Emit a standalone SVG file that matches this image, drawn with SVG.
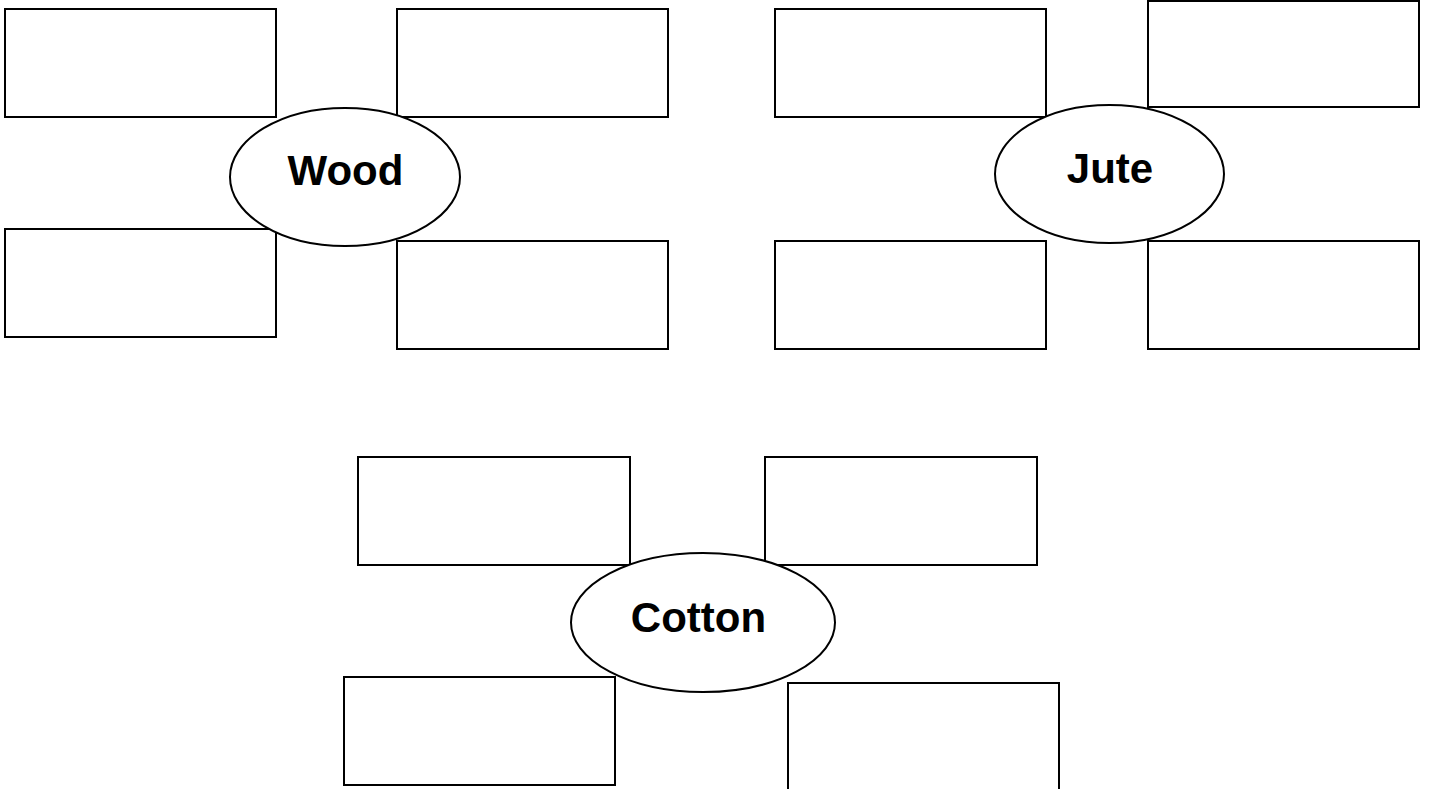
<svg xmlns="http://www.w3.org/2000/svg" width="1429" height="789" viewBox="0 0 1429 789">
<style>
.box{fill:#fff;stroke:#000;stroke-width:2}
.hub{fill:#fff;stroke:#000;stroke-width:2}
.lbl{font-family:"Liberation Sans",Arial,sans-serif;font-weight:bold;font-size:42px;fill:#000;text-anchor:middle}
</style>
<rect width="1429" height="789" fill="#fff"/>
<g id="connectors"></g>
<g id="wood-cluster">
  <rect id="wood-tl" class="box" x="5" y="9" width="271" height="108"/>
  <rect id="wood-tr" class="box" x="397" y="9" width="271" height="108"/>
  <rect id="wood-bl" class="box" x="5" y="229" width="271" height="108"/>
  <rect id="wood-br" class="box" x="397" y="241" width="271" height="108"/>
  <g id="wood">
    <ellipse class="hub" cx="345" cy="177" rx="115" ry="69"/>
    <text class="lbl" x="345.5" y="185">Wood</text>
  </g>
</g>
<g id="jute-cluster">
  <rect id="jute-tl" class="box" x="775" y="9" width="271" height="108"/>
  <rect id="jute-tr" class="box" x="1148" y="1" width="271" height="106"/>
  <rect id="jute-bl" class="box" x="775" y="241" width="271" height="108"/>
  <rect id="jute-br" class="box" x="1148" y="241" width="271" height="108"/>
  <g id="jute">
    <ellipse class="hub" cx="1109.5" cy="174" rx="114.5" ry="69"/>
    <text class="lbl" x="1110" y="183">Jute</text>
  </g>
</g>
<g id="cotton-cluster">
  <rect id="cotton-tl" class="box" x="358" y="457" width="272" height="108"/>
  <rect id="cotton-tr" class="box" x="765" y="457" width="272" height="108"/>
  <rect id="cotton-bl" class="box" x="344" y="677" width="271" height="108"/>
  <rect id="cotton-br" class="box" x="788" y="683" width="271" height="112"/>
  <g id="cotton">
    <ellipse class="hub" cx="703" cy="622.5" rx="132" ry="69.5"/>
    <text class="lbl" x="698.5" y="632">Cotton</text>
  </g>
</g>
</svg>
